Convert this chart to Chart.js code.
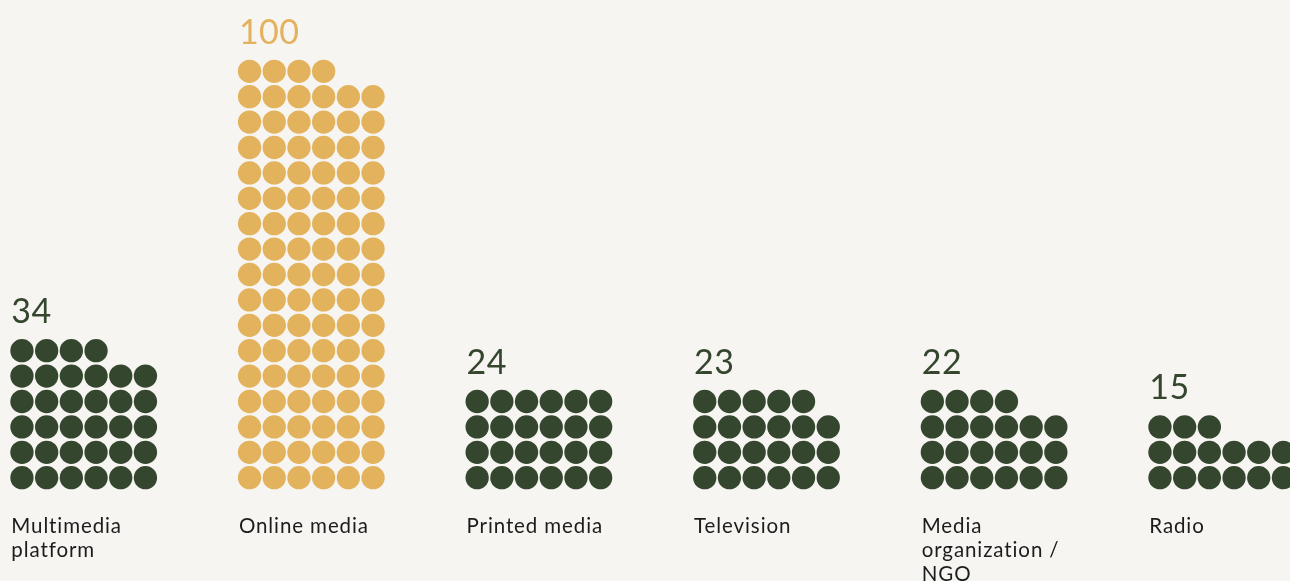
<!DOCTYPE html>
<html>
<head>
<meta charset="utf-8">
<title>Media types</title>
<script src="https://cdn.jsdelivr.net/npm/chart.js@4.4.1/dist/chart.umd.min.js"></script>
<style>
    html, body { margin: 0; padding: 0; background: #f7f5f1; }
    #wrap { width: 1290px; height: 581px; position: relative; }
</style>
</head>
<body>
<div id="wrap"><canvas id="dotChart"></canvas></div>
<script>
// one dot per respondent, six dots per row, filled from the bottom
const categories = [
    ['Multimedia', 'platform'],
    ['Online media'],
    ['Printed media'],
    ['Television'],
    ['Media', 'organization /', 'NGO'],
    ['Radio']
];
const counts = [34, 100, 24, 23, 22, 15];
const highlighted = [false, true, false, false, false, false];

const DOTS_PER_ROW = 6;
const GROUP_STEP = 9.215;   // distance between group starts, in dot columns
const DOT_RADIUS = 11.65;

const DARK = '#35462f';
const GOLD = '#e3b25c';
const TEXT = '#1c1c1c';

function buildDots() {
    const dark = [], gold = [];
    counts.forEach((n, c) => {
        for (let i = 0; i < n; i++) {
            const pt = { x: c * GROUP_STEP + (i % DOTS_PER_ROW), y: Math.floor(i / DOTS_PER_ROW) };
            (highlighted[c] ? gold : dark).push(pt);
        }
    });
    return { dark, gold };
}

const labelsPlugin = {
    id: 'waffleLabels',
    afterDatasetsDraw(chart) {
        const { ctx, scales: { x, y } } = chart;
        ctx.save();
        ctx.textAlign = 'left';
        ctx.textBaseline = 'alphabetic';
        counts.forEach((n, c) => {
            const left = x.getPixelForValue(c * GROUP_STEP) - DOT_RADIUS;
            const topRow = Math.floor((n - 1) / DOTS_PER_ROW);

            // total above the column
            ctx.fillStyle = highlighted[c] ? GOLD : DARK;
            ctx.font = '400 34px Lato';
            ctx.letterSpacing = '0.5px';
            ctx.fillText(String(n), left + 1, y.getPixelForValue(topRow) - DOT_RADIUS - 16);

            // category name under the column
            ctx.fillStyle = TEXT;
            ctx.font = '400 20.5px Lato';
            ctx.letterSpacing = '0.9px';
            const base = y.getPixelForValue(0) + 55.5;
            categories[c].forEach((line, k) => {
                ctx.fillText(line, left + 1, base + k * 24);
            });
        });
        ctx.restore();
    }
};

const dots = buildDots();

new Chart(document.getElementById('dotChart'), {
    type: 'scatter',
    data: {
        datasets: [
            { data: dots.dark, backgroundColor: DARK, pointRadius: DOT_RADIUS, pointHoverRadius: DOT_RADIUS, borderWidth: 0 },
            { data: dots.gold, backgroundColor: GOLD, pointRadius: DOT_RADIUS, pointHoverRadius: DOT_RADIUS, borderWidth: 0 }
        ]
    },
    options: {
        responsive: true,
        maintainAspectRatio: false,
        animation: false,
        events: [],
        layout: { padding: 0, autoPadding: false },
        plugins: {
            legend: { display: false },
            tooltip: { enabled: false }
        },
        scales: {
            x: { type: 'linear', display: false, min: -0.8887, max: 51.34 },
            y: { type: 'linear', display: false, min: -4.067, max: 18.807 }
        }
    },
    plugins: [labelsPlugin]
});
</script>
</body>
</html>
